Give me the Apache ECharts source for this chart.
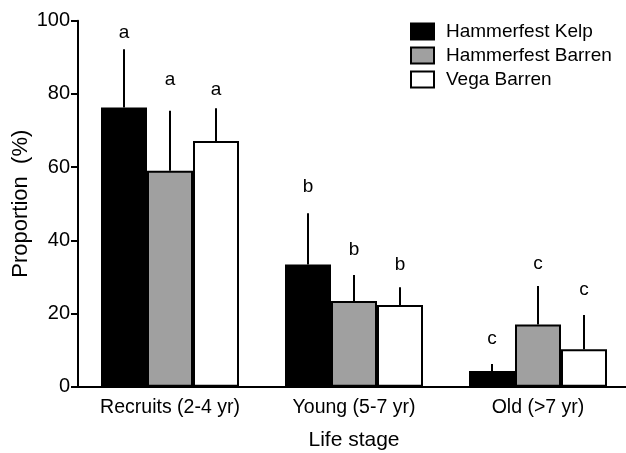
<!DOCTYPE html>
<html>
<head>
<meta charset="utf-8">
<script src="https://cdn.jsdelivr.net/npm/echarts@6/dist/echarts.min.js"></script>
<style>
  html, body { margin: 0; padding: 0; background: #fff; }
  #chart { width: 626px; height: 453px; }
</style>
</head>
<body>
<div id="chart"></div>
<script>
// Life stage categories
var categories = ['Recruits (2-4 yr)', 'Young (5-7 yr)', 'Old (>7 yr)'];
var seriesNames = ['Hammerfest Kelp', 'Hammerfest Barren', 'Vega Barren'];

// Mean proportions (%) per site
var kelpMean = [76.3, 33.4, 4.3];
var barrenMean = [59.0, 23.4, 17.0];
var vegaMean = [67.1, 22.3, 10.2];

// Upper error (SE) per site
var kelpErr = [15.9, 14.0, 1.9];
var barrenErr = [16.4, 7.1, 10.5];
var vegaErr = [9.0, 4.9, 9.4];

// Significance letters and the level (in %) they sit at
var groupLetters = ['a', 'b', 'c'];
var kelpLetterLevel = [96.6, 54.6, 13.2];
var barrenLetterLevel = [83.8, 37.3, 33.7];
var vegaLetterLevel = [81.1, 33.3, 26.6];

var yTicks = [0, 20, 40, 60, 80, 100];

var FONT = '"Liberation Sans", Arial, sans-serif';
var fills = ['#000000', '#a0a0a0', '#ffffff'];

var means = [kelpMean, barrenMean, vegaMean];
var errs = [kelpErr, barrenErr, vegaErr];
var levels = [kelpLetterLevel, barrenLetterLevel, vegaLetterLevel];

var chart = echarts.init(document.getElementById('chart'), null, { renderer: 'canvas' });

var series = [];
seriesNames.forEach(function (name, i) {
  series.push({
    name: name,
    type: 'bar',
    data: means[i],
    barGap: '0%',
    barCategoryGap: '25%',
    itemStyle: { color: fills[i], borderColor: '#000', borderWidth: 2 },
    emphasis: { disabled: true },
    silent: true,
    z: 2
  });
});

// Error whiskers (upper only) plus the significance letter for each bar
seriesNames.forEach(function (name, i) {
  var rows = categories.map(function (c, k) {
    return [k, means[i][k], means[i][k] + errs[i][k], levels[i][k]];
  });
  series.push({
    type: 'custom',
    data: rows,
    silent: true,
    z: 5,
    encode: { x: 0, y: [1, 2] },
    renderItem: function (params, api) {
      var k = api.value(0);
      var band = api.size([1, 0])[0];
      var off = (i - 1) * band * 0.25;
      var base = api.coord([k, api.value(1)]);
      var top = api.coord([k, api.value(2)]);
      var lab = api.coord([k, api.value(3)]);
      var x = Math.round(base[0] + off);
      return {
        type: 'group',
        children: [
          {
            type: 'line',
            shape: { x1: x, y1: base[1], x2: x, y2: top[1] },
            style: { stroke: '#000', lineWidth: 2 }
          },
          {
            type: 'text',
            x: x,
            y: lab[1],
            style: {
              text: groupLetters[k],
              fill: '#000',
              font: '19px ' + FONT,
              align: 'center',
              verticalAlign: 'middle'
            }
          }
        ]
      };
    }
  });
});

chart.setOption({
  animation: false,
  backgroundColor: '#fff',
  textStyle: { fontFamily: FONT },
  grid: { left: 78, top: 20.7, bottom: 66.3, width: 552, containLabel: false, outerBoundsMode: 'none' },
  legend: {
    data: seriesNames,
    orient: 'vertical',
    left: 410,
    top: 22,
    padding: 0,
    icon: 'rect',
    itemWidth: 23,
    itemHeight: 16,
    itemGap: 5,
    selectedMode: false,
    textStyle: { fontSize: 19, color: '#000', fontFamily: FONT, lineHeight: 16, padding: [0, 0, 0, 7] }
  },
  xAxis: {
    type: 'category',
    data: categories,
    name: 'Life stage',
    nameLocation: 'middle',
    nameGap: 43,
    nameMoveOverlap: false,
    nameTextStyle: { fontSize: 21, color: '#000', fontFamily: FONT },
    axisLine: { lineStyle: { color: '#000', width: 2 } },
    axisTick: { alignWithLabel: true, length: 7, lineStyle: { color: '#000', width: 2 } },
    axisLabel: { interval: 0, hideOverlap: false, fontSize: 19.5, color: '#000', margin: 11, fontFamily: FONT }
  },
  yAxis: {
    type: 'value',
    min: yTicks[0],
    max: yTicks[yTicks.length - 1],
    interval: yTicks[1] - yTicks[0],
    name: 'Proportion  (%)',
    nameLocation: 'middle',
    nameGap: 46,
    nameMoveOverlap: false,
    nameTextStyle: { fontSize: 22, color: '#000', fontFamily: FONT },
    axisLine: { show: true, lineStyle: { color: '#000', width: 2 } },
    axisTick: { show: true, length: 7, lineStyle: { color: '#000', width: 2 } },
    axisLabel: { fontSize: 20, color: '#000', margin: 8, fontFamily: FONT },
    splitLine: { show: false }
  },
  series: series
});
</script>
</body>
</html>
